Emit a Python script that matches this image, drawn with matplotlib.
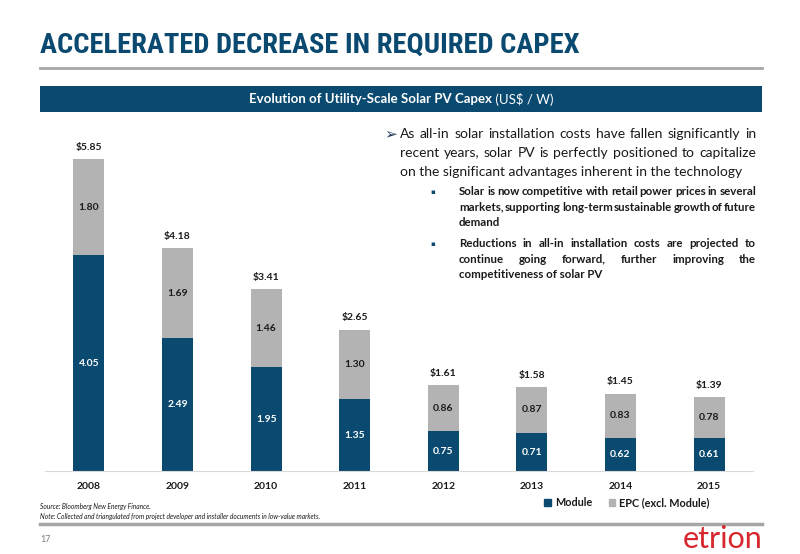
import matplotlib
matplotlib.use("Agg")
import matplotlib.pyplot as plt
from matplotlib import font_manager as fm
from matplotlib.patches import Rectangle, Patch
from matplotlib.lines import Line2D
import numpy as np

# ---------------- data ----------------
years = ["2008", "2009", "2010", "2011", "2012", "2013", "2014", "2015"]
module = [4.05, 2.49, 1.95, 1.35, 0.75, 0.71, 0.62, 0.61]
epc = [1.80, 1.69, 1.46, 1.30, 0.86, 0.87, 0.83, 0.78]
series_names = ["Module", "EPC (excl. Module)"]

title = "ACCELERATED DECREASE IN REQUIRED CAPEX"
banner_bold = "Evolution of Utility-Scale Solar PV Capex"
banner_reg = " (US$ / W)"
main_lines = [
    "As all-in solar installation costs have fallen significantly in",
    "recent years, solar PV is perfectly positioned to capitalize",
    "on the significant advantages inherent in the technology",
]
sub1_lines = [
    "Solar is now competitive with retail power prices in several",
    "markets, supporting long-term sustainable growth of future",
    "demand",
]
sub2_lines = [
    "Reductions in all-in installation costs are projected to",
    "continue going forward, further improving the",
    "competitiveness of solar PV",
]
source_lines = [
    "Source: Bloomberg New Energy Finance.",
    "Note: Collected and triangulated from project developer and installer documents in low-value markets.",
]
page_no = "17"
logo = "etrion"

# ---------------- style ----------------
NAVY = "#0b4a70"
GREY = "#b3b3b3"
TXT = "#1a1a1a"
RED = "#d7262e"

avail = {f.name for f in fm.fontManager.ttflist}


def pick(*names):
    for n in names:
        if n in avail:
            return n
    return "DejaVu Sans"


BODY = pick("Lato", "Open Sans", "Noto Sans")
COND = pick("Roboto Condensed", "Liberation Sans Narrow", "Lato")

W, H = 800, 554
fig = plt.figure(figsize=(8.0, 5.54), dpi=100)
fig.patch.set_facecolor("white")


def fx(px):
    return px / W


def fy(py):
    return 1 - py / H


renderer = fig.canvas.get_renderer()


def text_w(s, **kw):
    t = fig.text(0, 0, s, **kw)
    w = t.get_window_extent(renderer).width
    t.remove()
    return w


def justified(line, x0, x1, yb, justify=True, **kw):
    if not justify:
        fig.text(fx(x0), fy(yb), line, ha="left", va="baseline", **kw)
        return
    words = line.split()
    widths = [text_w(w, **kw) for w in words]
    gap = (x1 - x0 - sum(widths)) / max(len(words) - 1, 1)
    x = x0
    for w, wd in zip(words, widths):
        fig.text(fx(x), fy(yb), w, ha="left", va="baseline", **kw)
        x += wd + gap


# ---------------- header ----------------
fig.text(fx(40), fy(45), title, ha="left", va="center", fontsize=20.5,
         fontweight="bold", color=NAVY, family=COND)
fig.add_artist(Line2D([fx(40), fx(762)], [fy(68), fy(68)], color="#a6a6a6", lw=2))

fig.add_artist(Rectangle((fx(40), fy(112)), fx(722), 26 / H,
                         transform=fig.transFigure, color=NAVY, lw=0))
bkw = dict(fontsize=9.5, color="white", family=BODY)
wb = text_w(banner_bold, fontweight="bold", **bkw)
wr = text_w(banner_reg, **bkw)
xs = 401 - (wb + wr) / 2
fig.text(fx(xs), fy(99), banner_bold, ha="left", va="center", fontweight="bold", **bkw)
fig.text(fx(xs + wb), fy(99), banner_reg, ha="left", va="center", **bkw)

# ---------------- bullet text ----------------
fig.text(fx(384), fy(134), "\u27a2", ha="left", va="center", fontsize=11,
         color="#1f3b5a", family="DejaVu Sans")
mkw = dict(fontsize=10, color=TXT, family=BODY)
for i, (ln, y) in enumerate(zip(main_lines, [134, 153, 172])):
    justified(ln, 400, 756, y + 4, justify=(i < len(main_lines) - 1), **mkw)

skw = dict(fontsize=8.3, color=TXT, family=BODY, fontweight="bold")
for lines, ys in [(sub1_lines, [192, 207.5, 223]), (sub2_lines, [244, 259.5, 275])]:
    fig.text(fx(430), fy(ys[0]), "\u25aa", ha="left", va="center", fontsize=5,
             color=NAVY, family="DejaVu Sans")
    for i, (ln, y) in enumerate(zip(lines, ys)):
        justified(ln, 459, 756, y + 3.3, justify=(i < len(lines) - 1), **skw)

# ---------------- chart ----------------
scale = 53.33  # px per unit
ytop = 6.2
ax = fig.add_axes([fx(44.7), fy(471), fx(753.3 - 44.7), ytop * scale / H])
x = np.arange(len(years))
mod = np.array(module)
ep = np.array(epc)
tot = mod + ep
ax.bar(x, mod, 0.35, color=NAVY, label=series_names[0], zorder=2)
ax.bar(x, ep, 0.35, bottom=mod, color=GREY, label=series_names[1], zorder=2)
lkw = dict(ha="center", va="center", fontsize=7.5, family=BODY, fontweight="bold")
for i in range(len(years)):
    ax.text(x[i], mod[i] / 2, f"{mod[i]:.2f}", color="white", **lkw)
    ax.text(x[i], mod[i] + ep[i] / 2, f"{ep[i]:.2f}", color=TXT, **lkw)
    ax.text(x[i], tot[i] + 0.22, f"${tot[i]:.2f}", color=TXT, **lkw)

ax.set_xlim(-0.5, 7.5)
ax.set_ylim(0, ytop)
ax.set_xticks(x)
ax.set_xticklabels(years, fontsize=7.5, family=BODY, fontweight="bold", color=TXT)
ax.tick_params(axis="x", length=0, pad=8)
ax.set_yticks([])
for s in ["left", "right", "top"]:
    ax.spines[s].set_visible(False)
ax.spines["bottom"].set_color("#d9d9d9")
ax.spines["bottom"].set_linewidth(0.8)
ax.set_facecolor("none")

handles = [Patch(color=NAVY), Patch(color=GREY)]
fig.legend(handles, series_names, loc="center", bbox_to_anchor=(fx(627), fy(503)),
           ncol=2, frameon=False, handlelength=0.6, handleheight=0.6,
           handletextpad=0.4, columnspacing=1.5,
           prop=dict(family=BODY, size=7.8, weight="bold"), labelcolor=TXT)

# ---------------- footer ----------------
fig.text(fx(40), fy(507), source_lines[0], ha="left", va="center", fontsize=4.8,
         style="italic", color=TXT, family=BODY)
fig.text(fx(40), fy(516), source_lines[1], ha="left", va="center", fontsize=4.8,
         style="italic", color=TXT, family=BODY)
fig.add_artist(Line2D([fx(40), fx(762)], [fy(524), fy(524)], color="#a6a6a6", lw=2.5))
fig.text(fx(40), fy(540), page_no, ha="left", va="center", fontsize=6.5,
         color="#7f7f7f", family=BODY)
fig.text(fx(762), fy(539), logo, ha="right", va="center", fontsize=22,
         color=RED, family=BODY, fontweight="normal")

fig.savefig("out.png", dpi=100, facecolor="white")
